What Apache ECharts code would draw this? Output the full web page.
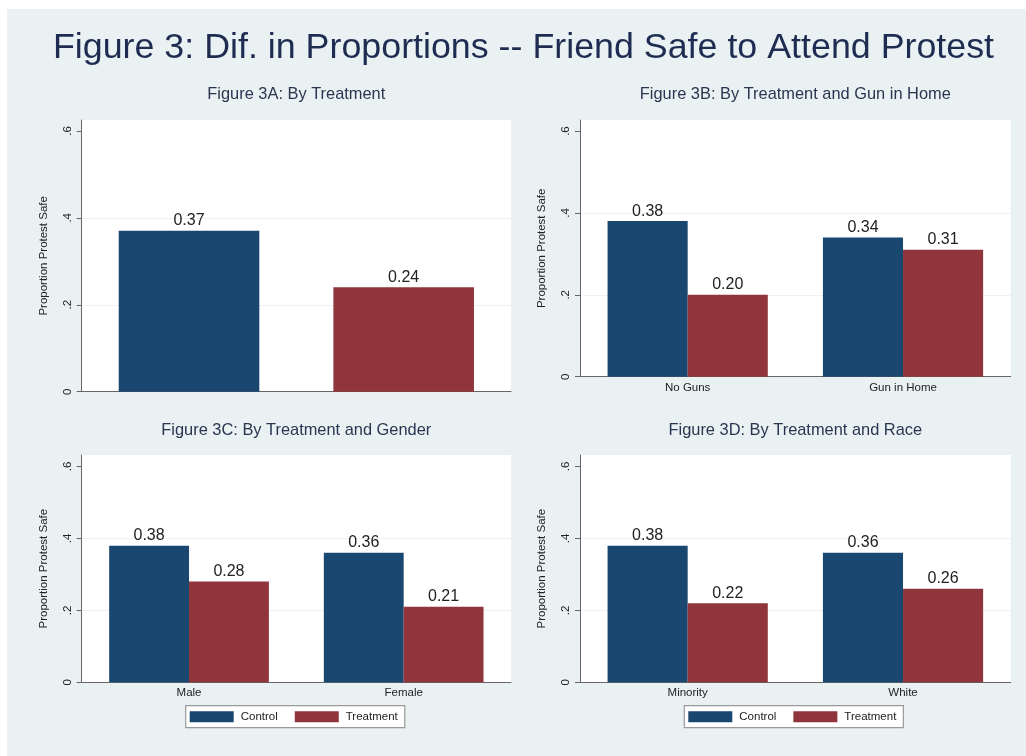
<!DOCTYPE html>
<html>
<head>
<meta charset="utf-8">
<script src="https://cdn.jsdelivr.net/npm/echarts@6/dist/echarts.min.js"></script>
<style>
  html, body { margin: 0; padding: 0; background: #ffffff; }
  #frame { position: absolute; left: 7px; top: 9px; right: 0; bottom: 0; background: #e9f1f3; }
  #chart { position: absolute; left: 0; top: 0; width: 1026px; height: 756px; }
</style>
</head>
<body>
<div id="frame"></div>
<div id="chart"></div>
<script>
// Proportion of respondents who say a friend is safe to attend a protest
const armsA = ['Control', 'Treatment'];
const valuesA = [0.37, 0.24];

const groupsB = ['No Guns', 'Gun in Home'];
const controlB = [0.38, 0.34];
const treatmentB = [0.20, 0.31];

const groupsC = ['Male', 'Female'];
const controlC = [0.38, 0.36];
const treatmentC = [0.28, 0.21];

const groupsD = ['Minority', 'White'];
const controlD = [0.38, 0.36];
const treatmentD = [0.22, 0.26];

const yTicks = [0, 0.2, 0.4, 0.6];
const yTickLabels = ['0', '.2', '.4', '.6'];

const NAVY = '#1a476f';
const MAROON = '#90353b';
const FONT = '"Liberation Sans", Arial, Helvetica, sans-serif';
const SMALL = 11.5;

const chart = echarts.init(document.getElementById('chart'), null, { renderer: 'canvas' });

const grids = [
  { left: 81.7, top: 120, width: 429.3, height: 271.7 },
  { left: 580, top: 120, width: 430.7, height: 256.7 },
  { left: 81.7, top: 455, width: 429.3, height: 227.3 },
  { left: 580, top: 455, width: 430.7, height: 227.3 }
].map(g => Object.assign({ show: true, backgroundColor: '#ffffff', borderWidth: 0 }, g));

const yMax = [0.625, 0.627, 0.632, 0.632];

function yAxis(i) {
  return {
    type: 'value', gridIndex: i, min: 0, max: yMax[i],
    name: 'Proportion Protest Safe', nameLocation: 'middle', nameGap: 32, nameRotate: 90,
    nameTextStyle: { fontSize: SMALL, color: '#222', fontFamily: FONT },
    axisLine: { show: true, lineStyle: { color: '#666', width: 1 } },
    axisTick: { show: true, length: 5, customValues: yTicks, lineStyle: { color: '#666' } },
    axisLabel: {
      customValues: yTicks, rotate: 90, margin: 8, fontSize: SMALL, color: '#222', fontFamily: FONT,
      formatter: v => yTickLabels[yTicks.findIndex(t => Math.abs(t - v) < 1e-9)] ?? ''
    },
    splitLine: {
      show: true,
      lineStyle: { color: ['rgba(0,0,0,0)', '#edf1f3', '#edf1f3', 'rgba(0,0,0,0)'], width: 1 }
    }
  };
}

function xAxis(i, cats, showLabels) {
  return {
    type: 'category', gridIndex: i, data: cats,
    axisLine: { show: true, lineStyle: { color: '#666', width: 1 } },
    axisTick: { show: false },
    axisLabel: { show: showLabels, margin: 5, fontSize: SMALL, color: '#222', fontFamily: FONT }
  };
}

const valueLabel = {
  show: true, position: 'top', distance: 2,
  fontSize: 16, color: '#222', fontFamily: FONT,
  formatter: p => Number(p.value).toFixed(2)
};

function barPair(i, control, treatment) {
  return [
    { name: 'Control', type: 'bar', xAxisIndex: i, yAxisIndex: i, data: control,
      barGap: '0%', barCategoryGap: '25.6%', itemStyle: { color: NAVY }, label: valueLabel },
    { name: 'Treatment', type: 'bar', xAxisIndex: i, yAxisIndex: i, data: treatment,
      barGap: '0%', barCategoryGap: '25.6%', itemStyle: { color: MAROON }, label: valueLabel }
  ];
}

const subtitle = (text, left, top) => ({
  text, left, top, textAlign: 'center', padding: 0,
  textStyle: { fontSize: 16.4, fontWeight: 'normal', color: '#2a3650', fontFamily: FONT }
});

const legend = (left) => ({
  left, top: 705.7, orient: 'horizontal',
  data: ['Control', 'Treatment'], icon: 'rect',
  itemWidth: 44, itemHeight: 11, itemGap: 17,
  padding: [5, 7, 5, 4],
  backgroundColor: '#ffffff', borderColor: '#999', borderWidth: 1.2,
  selectedMode: false,
  textStyle: { fontSize: SMALL, color: '#222', fontFamily: FONT, padding: [0, 0, 0, 2] }
});

chart.setOption({
  animation: false,
  backgroundColor: 'transparent',
  title: [
    { text: 'Figure 3: Dif. in Proportions -- Friend Safe to Attend Protest', left: 523.5, top: 30.5,
      textAlign: 'center', padding: 0,
      textStyle: { fontSize: 35.8, fontWeight: 'normal', color: '#1f2c52', fontFamily: FONT } },
    subtitle('Figure 3A: By Treatment', 296.3, 86.3),
    subtitle('Figure 3B: By Treatment and Gun in Home', 795.3, 86.3),
    subtitle('Figure 3C: By Treatment and Gender', 296.3, 422),
    subtitle('Figure 3D: By Treatment and Race', 795.3, 422)
  ],
  legend: [legend(185.7), legend(684.3)],
  grid: grids,
  xAxis: [
    xAxis(0, armsA, false),
    xAxis(1, groupsB, true),
    xAxis(2, groupsC, true),
    xAxis(3, groupsD, true)
  ],
  yAxis: [yAxis(0), yAxis(1), yAxis(2), yAxis(3)],
  series: [
    { name: 'By Treatment', type: 'bar', xAxisIndex: 0, yAxisIndex: 0, barCategoryGap: '34.5%',
      data: valuesA.map((v, k) => ({ value: v, itemStyle: { color: k === 0 ? NAVY : MAROON } })),
      label: valueLabel },
    ...barPair(1, controlB, treatmentB),
    ...barPair(2, controlC, treatmentC),
    ...barPair(3, controlD, treatmentD)
  ]
});
</script>
</body>
</html>
